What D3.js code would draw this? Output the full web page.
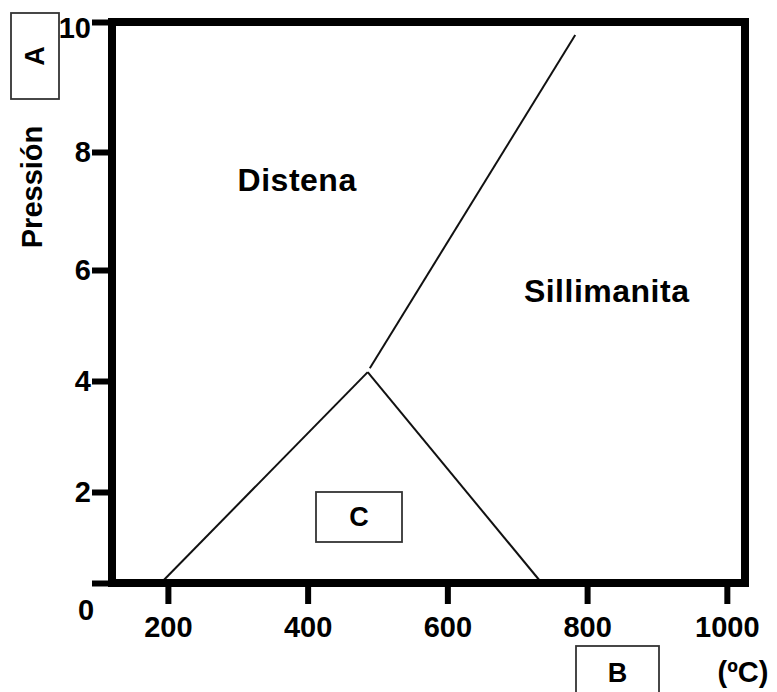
<!DOCTYPE html>
<html>
<head>
<meta charset="utf-8">
<script src="https://cdn.jsdelivr.net/npm/d3@7"></script>
<style>
  body { margin: 0; background: #fff; }
  svg text { font-family: "Liberation Sans", Arial, sans-serif; font-weight: bold; fill: #000; }
</style>
</head>
<body>
<svg width="777" height="692"></svg>
<script>
// Tick values for both axes
var xTicks = [200, 400, 600, 800, 1000];
var yTicks = [2, 4, 6, 8, 10];

// Phase boundaries, [temperature ºC, pression]
var boundaryLeft  = [[190, 0.4], [486, 4.16]];
var boundaryRight = [[486, 4.16], [735, 0.4]];
var boundaryUpper = [[489, 4.23], [783, 9.8]];

// Field names, placed at [temperature, pression]
var fieldNames = ["Distena", "Sillimanita"];
var fieldPos = [[385, 7.53], [828, 5.62]];

var svg = d3.select("svg");

// x runs a bit past the first and last tick
var x = d3.scaleLinear()
    .domain([120, 1026])
    .range([112, 745]);

// The original y axis is not evenly spaced, so map each tick on its own
var y = d3.scaleLinear()
    .domain([0.4, 2, 4, 6, 8, 10])
    .range([583, 492, 381, 270, 152, 22]);

var line = d3.line()
    .x(function(d) { return x(d[0]); })
    .y(function(d) { return y(d[1]); });

// Boundaries first, frame drawn over them
[boundaryLeft, boundaryRight, boundaryUpper].forEach(function(b) {
    svg.append("path")
        .attr("d", line(b))
        .attr("fill", "none")
        .attr("stroke", "#111")
        .attr("stroke-width", 2);
});

// Axes, no domain path (the frame is drawn as a rect)
var xAxis = svg.append("g")
    .attr("transform", "translate(0," + y(0.4) + ")")
    .call(d3.axisBottom(x).tickValues(xTicks).tickSize(21).tickPadding(12)
        .tickFormat(d3.format("d")));

// bottom tick at 0.4 has no label; it makes the x line stick out on the left
var yAxis = svg.append("g")
    .attr("transform", "translate(" + x(120) + ",0)")
    .call(d3.axisLeft(y).tickValues([0.4].concat(yTicks)).tickSize(20).tickPadding(1)
        .tickFormat(function(d) { return d == 0.4 ? "" : d; }));

[xAxis, yAxis].forEach(function(a) {
    a.select(".domain").remove();
    a.selectAll(".tick line").attr("stroke", "#000").attr("stroke-width", 6);
    a.selectAll(".tick text")
        .style("font-size", "29px")
        .style("font-family", "'Liberation Sans', Arial, sans-serif")
        .style("font-weight", "bold")
        .attr("fill", "#000");
});

// the top label sits a little under the frame line
yAxis.selectAll(".tick text").filter(function(d) { return d == 10; })
    .attr("dy", "0.55em");

// Frame
svg.append("rect")
    .attr("x", x(120))
    .attr("y", y(10))
    .attr("width", x(1026) - x(120))
    .attr("height", y(0.4) - y(10))
    .attr("fill", "none")
    .attr("stroke", "#000")
    .attr("stroke-width", 8);

// Origin label
svg.append("text")
    .attr("x", 86).attr("y", 610)
    .attr("text-anchor", "middle").attr("dominant-baseline", "central")
    .style("font-size", "29px")
    .text("0");

// Field names
fieldNames.forEach(function(n, i) {
    svg.append("text")
        .attr("x", x(fieldPos[i][0]))
        .attr("y", y(fieldPos[i][1]))
        .attr("text-anchor", "middle")
        .attr("dominant-baseline", "central")
        .style("font-size", "32px")
        .style("letter-spacing", "0.5px")
        .text(n);
});

// Axis titles
svg.append("text")
    .attr("transform", "translate(32,187) rotate(-90)")
    .attr("text-anchor", "middle").attr("dominant-baseline", "central")
    .style("font-size", "29px")
    .text("Pressión");

svg.append("text")
    .attr("x", 743).attr("y", 672)
    .attr("text-anchor", "middle").attr("dominant-baseline", "central")
    .style("font-size", "29px")
    .text("(ºC)");

// Answer boxes A, B, C
var boxes = [
    {label: "A", x: 11, y: 13, w: 48, h: 86, rot: true},
    {label: "B", x: 576, y: 646, w: 83, h: 60, rot: false},
    {label: "C", x: 316, y: 492, w: 86, h: 50, rot: false}
];

boxes.forEach(function(b) {
    svg.append("rect")
        .attr("x", b.x).attr("y", b.y)
        .attr("width", b.w).attr("height", b.h)
        .attr("fill", "none")
        .attr("stroke", "#333")
        .attr("stroke-width", 1.8);
    var cx = b.x + b.w / 2,
        cy = b.label == "B" ? 673 : b.y + b.h / 2;
    svg.append("text")
        .attr("transform", "translate(" + cx + "," + cy + ")" + (b.rot ? " rotate(-90)" : ""))
        .attr("text-anchor", "middle").attr("dominant-baseline", "central")
        .style("font-size", "27px")
        .text(b.label);
});
</script>
</body>
</html>
